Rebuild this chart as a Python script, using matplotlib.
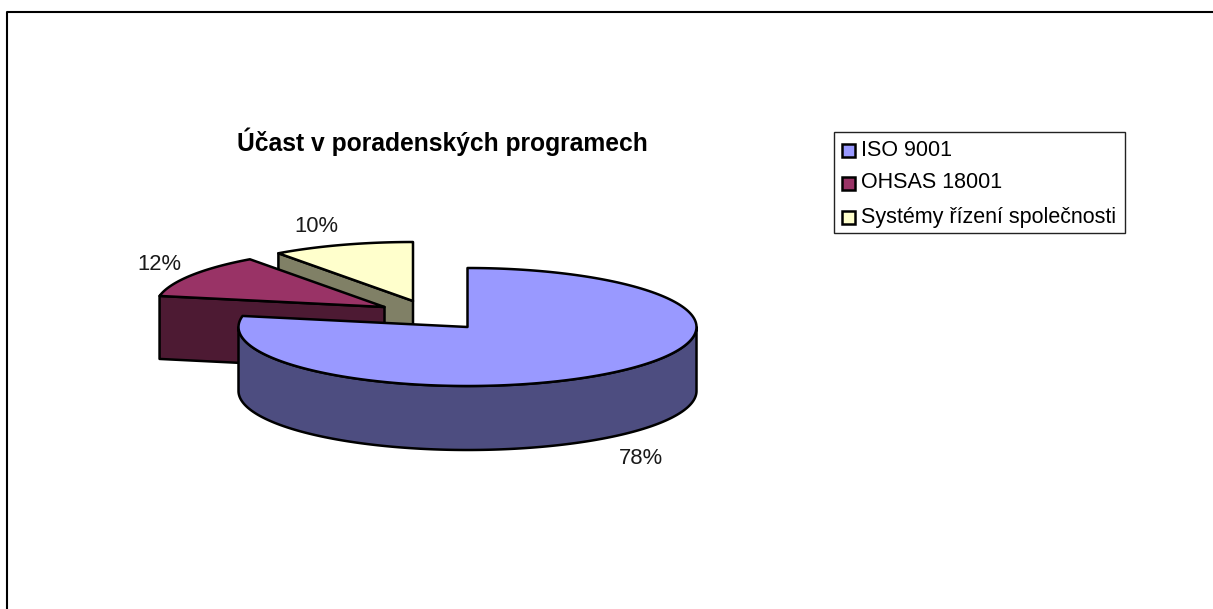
import numpy as np
import matplotlib
matplotlib.use('Agg')
import matplotlib.pyplot as plt
from matplotlib.patches import Polygon, Rectangle

plt.rcParams['font.family'] = ['Liberation Sans', 'DejaVu Sans']

# data
categories = ['ISO 9001', 'OHSAS 18001', 'Systémy řízení společnosti']
values = [78, 12, 10]
pct_labels = ['78%', '12%', '10%']
title = 'Účast v poradenských programech'

top_colors = ['#9999FF', '#993366', '#FFFFCC']
side_colors = ['#4D4D80', '#4D1A33', '#808066']

# pie geometry in pixels
centers = [(467.5, 327), (384.5, 307), (413, 301)]
rx, ry = 229, 59
depths = [64, 63, 63]

fig = plt.figure(figsize=(12.13, 6.09), dpi=100)
ax = fig.add_axes([0, 0, 1, 1])
ax.set_xlim(0, 1213)
ax.set_ylim(609, 0)
ax.axis('off')

# angles run clockwise from 12 o'clock
edges = np.concatenate([[0], np.cumsum(values)]) / sum(values) * 2 * np.pi


def rim(i, a0, a1, n=200):
    a = np.linspace(a0, a1, n)
    cx, cy = centers[i]
    return cx + rx * np.sin(a), cy - ry * np.cos(a)


def top_face(i):
    x, y = rim(i, edges[i], edges[i + 1])
    x = np.concatenate([[centers[i][0]], x])
    y = np.concatenate([[centers[i][1]], y])
    return np.column_stack([x, y])


def add(pts, color, z):
    ax.add_patch(Polygon(pts, closed=True, facecolor=color, edgecolor='black',
                         linewidth=1.8, joinstyle='round', zorder=z))


# yellow slice: cut face, then top
cx, cy = centers[2]
x0, y0 = rim(2, edges[2], edges[2], 1)
add([(cx, cy), (x0[0], y0[0]), (x0[0], y0[0] + depths[2]), (cx, cy + depths[2])], side_colors[2], 1)
add(top_face(2), top_colors[2], 2)

# red slice
cx, cy = centers[1]
x0, y0 = rim(1, edges[1], edges[1], 1)
add([(cx, cy), (x0[0], y0[0]), (x0[0], y0[0] + depths[1]), (cx, cy + depths[1])], side_colors[1], 3)
add(top_face(1), top_colors[1], 4)

# blue slice: outer wall runs from the right end round the front to the left end
xs, ys = rim(0, np.pi / 2, 3 * np.pi / 2)
wall = np.column_stack([np.concatenate([xs, xs[::-1]]),
                        np.concatenate([ys, ys[::-1] + depths[0]])])
add(wall, side_colors[0], 5)
add(top_face(0), top_colors[0], 6)

# outer frame, open on the right and at the bottom
ax.plot([7, 7, 1213], [609, 12, 12], color='black', lw=1.5, zorder=0)

ax.text(442, 142, title, fontsize=17.7, fontweight='bold', ha='center', va='center')

label_pos = [(641, 458), (159, 264), (316, 226)]
for s, (x, y) in zip(pct_labels, label_pos):
    ax.text(x, y, s, fontsize=15.8, ha='center', va='center', color='#1a1a1a')

# legend
ax.add_patch(Rectangle((834, 132), 291, 101, facecolor='white', edgecolor='#222222', lw=1))
legend_y = [150, 183, 217]
for c, name, y in zip(top_colors, categories, legend_y):
    ax.add_patch(Rectangle((842, y - 6.5), 13, 13, facecolor=c, edgecolor='black', lw=1.8, zorder=3))
    ax.text(861, y, name, fontsize=15.5, va='center', ha='left')

fig.savefig('out.png', dpi=100, facecolor='white')
